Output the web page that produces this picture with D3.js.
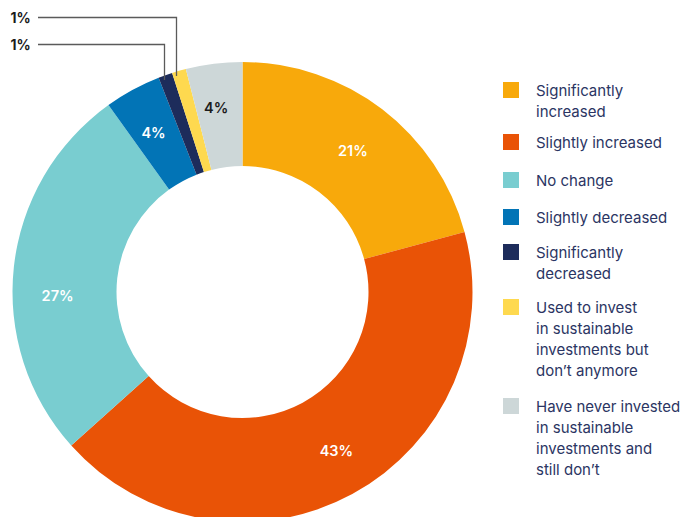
<!DOCTYPE html>
<html>
<head>
<meta charset="utf-8">
<script src="https://cdn.jsdelivr.net/npm/d3@7/dist/d3.min.js"></script>
<style>
  html, body { margin: 0; padding: 0; background: #fff; }
  svg { display: block; }
</style>
</head>
<body>
<svg id="chart" width="697" height="517"></svg>
<script>
const categories = [
  "Significantly increased",
  "Slightly increased",
  "No change",
  "Slightly decreased",
  "Significantly decreased",
  "Used to invest in sustainable investments but don\u2019t anymore",
  "Have never invested in sustainable investments and still don\u2019t"
];
const values = [21, 43, 27, 4, 1, 1, 4];
const valueLabels = ["21%", "43%", "27%", "4%", "1%", "1%", "4%"];
const legendLines = [
  ["Significantly", "increased"],
  ["Slightly increased"],
  ["No change"],
  ["Slightly decreased"],
  ["Significantly", "decreased"],
  ["Used to invest", "in sustainable", "investments but", "don\u2019t anymore"],
  ["Have never invested", "in sustainable", "investments and", "still don\u2019t"]
];
const colors = ["#F8A90B", "#E95306", "#79CDD0", "#0274B6", "#1D2C5B", "#FED94F", "#CDD7D8"];
const labelColors = ["#fff", "#fff", "#fff", "#fff", null, null, "#1b1b1b"];

const svg = d3.select("#chart");
const cx = 242.5, cy = 292, outerR = 230, innerR = 126;
const font = "Inter, 'Noto Sans', sans-serif";

const pie = d3.pie().sort(null).value(d => d)(values);
const arc = d3.arc().innerRadius(innerR).outerRadius(outerR);

const g = svg.append("g").attr("transform", `translate(${cx},${cy})`);
g.selectAll("path.slice").data(pie).join("path")
  .attr("class", "slice")
  .attr("d", arc)
  .attr("fill", (d, i) => colors[i]);

// inline labels
const labelArc = d3.arc().innerRadius(180).outerRadius(180);
const nudge = {0: [1, 1], 1: [8, 0], 2: [-6, 23], 3: [-3, -1], 6: [-4, -6]};
g.selectAll("text.lbl").data(pie.filter((d, i) => labelColors[i])).join("text")
  .attr("class", "lbl")
  .attr("transform", d => {
    const i = d.index;
    const c = labelArc.centroid(d);
    const n = nudge[i] || [0, 0];
    return `translate(${c[0] + n[0]},${c[1] + n[1]})`;
  })
  .attr("text-anchor", "middle")
  .attr("dominant-baseline", "central")
  .attr("font-family", font)
  .attr("font-size", 14.5)
  .attr("font-weight", 600)
  .attr("fill", d => labelColors[d.index])
  .text(d => valueLabels[d.index]);

// leader-line labels for the 1% slices
const leaderY = {4: 44.5, 5: 17.5};
const leaderFrac = {4: 0.3, 5: 0.2};
[5, 4].forEach(i => {
  const d = pie[i];
  const a = d.startAngle + leaderFrac[i] * (d.endAngle - d.startAngle);
  const x = cx + 226 * Math.sin(a);
  const yEnd = cy - 226 * Math.cos(a);
  const y = leaderY[i];
  svg.append("path")
    .attr("d", `M38,${y}H${Math.round(x) + 0.5}V${yEnd}`)
    .attr("fill", "none")
    .attr("stroke", "#5a5a5a")
    .attr("stroke-width", 1.3);
  svg.append("text")
    .attr("x", 10.5)
    .attr("y", y)
    .attr("dominant-baseline", "central")
    .attr("font-family", font)
    .attr("font-size", 14)
    .attr("font-weight", 700)
    .attr("fill", "#1b1b1b")
    .text(valueLabels[i]);
});

// legend
const legendTop = [90, 142, 180, 217, 252, 307, 406];
const lg = svg.append("g");
categories.forEach((c, i) => {
  const y0 = legendTop[i];
  lg.append("rect")
    .attr("x", 503).attr("y", y0 - 8)
    .attr("width", 16).attr("height", 16)
    .attr("fill", colors[i]);
  const t = lg.append("text")
    .attr("font-family", font)
    .attr("font-size", 15)
    .attr("fill", "#2B3563");
  legendLines[i].forEach((line, k) => {
    t.append("tspan")
      .attr("x", 536)
      .attr("y", y0 + k * 21.3)
      .attr("dominant-baseline", "central")
      .text(line);
  });
});
</script>
</body>
</html>
